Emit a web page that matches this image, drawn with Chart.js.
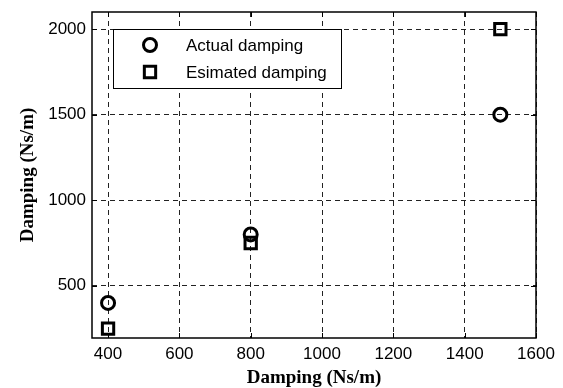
<!DOCTYPE html>
<html>
<head>
<meta charset="utf-8">
<script src="https://cdn.jsdelivr.net/npm/chart.js@4.4.1/dist/chart.umd.min.js"></script>
<style>
  html, body { margin: 0; padding: 0; background: #fff; }
  #wrap { width: 563px; height: 388px; }
</style>
</head>
<body>
<div id="wrap"><canvas id="c" width="563" height="388"></canvas></div>
<script>
// Damping values (Ns/m)
const inputDamping = [400, 800, 1500];
const actualDamping = [400, 800, 1500];
const estimatedDamping = [250, 750, 2000];

const xTickValues = [400, 600, 800, 1000, 1200, 1400, 1600];
const yTickValues = [500, 1000, 1500, 2000];

const seriesLabels = ['Actual damping', 'Esimated damping'];
const axisTitle = 'Damping (Ns/m)';

const toPoints = (xs, ys) => xs.map((x, i) => ({ x: x, y: ys[i] }));

// Box frame with inward tick marks on all four sides
const framePlugin = {
  id: 'frame',
  afterDatasetsDraw(chart) {
    const { ctx, chartArea: a, scales } = chart;
    ctx.save();
    ctx.strokeStyle = '#000';
    ctx.lineWidth = 1;
    ctx.setLineDash([]);
    const t = 5;
    ctx.beginPath();
    xTickValues.forEach(v => {
      const px = Math.round(scales.x.getPixelForValue(v)) + 0.5;
      ctx.moveTo(px, a.bottom); ctx.lineTo(px, a.bottom - t);
      ctx.moveTo(px, a.top); ctx.lineTo(px, a.top + t);
    });
    yTickValues.forEach(v => {
      const py = Math.round(scales.y.getPixelForValue(v)) + 0.5;
      ctx.moveTo(a.left, py); ctx.lineTo(a.left + t, py);
      ctx.moveTo(a.right, py); ctx.lineTo(a.right - t, py);
    });
    ctx.stroke();
    ctx.lineWidth = 1.5;
    ctx.strokeRect(a.left, a.top, a.right - a.left, a.bottom - a.top);
    ctx.restore();
  }
};

// Boxed legend in the upper-left of the plot area
const boxLegendPlugin = {
  id: 'boxLegend',
  afterDraw(chart) {
    const { ctx, chartArea: a } = chart;
    const x0 = a.left + 21, y0 = a.top + 17, w = 228, h = 59;
    ctx.save();
    ctx.fillStyle = '#fff';
    ctx.fillRect(x0, y0, w, h);
    ctx.strokeStyle = '#000';
    ctx.lineWidth = 1;
    ctx.setLineDash([]);
    ctx.strokeRect(x0 + 0.5, y0 + 0.5, w, h);
    ctx.font = '17px "Liberation Sans", Arial, sans-serif';
    ctx.textBaseline = 'middle';
    chart.data.datasets.forEach((ds, i) => {
      const cy = y0 + 16 + i * 27;
      const cx = x0 + 37;
      ctx.fillStyle = 'rgba(0,0,0,0)';
      ctx.strokeStyle = '#000';
      ctx.lineWidth = ds.borderWidth;
      Chart.helpers.drawPoint(ctx, {
        pointStyle: ds.pointStyle,
        radius: ds.pointRadius,
        borderWidth: ds.borderWidth
      }, cx, cy);
      ctx.fillStyle = '#000';
      ctx.fillText(ds.label, x0 + 73, cy + 1);
    });
    ctx.restore();
  }
};

const gridOpts = {
  color: '#222',
  lineWidth: 1,
  drawTicks: false
};

const tickFont = { family: '"Liberation Sans", Arial, sans-serif', size: 17 };
const titleFont = { family: '"Liberation Serif", "Times New Roman", serif', size: 19, weight: 'bold', lineHeight: 1 };

new Chart(document.getElementById('c'), {
  type: 'scatter',
  data: {
    datasets: [
      {
        label: seriesLabels[0],
        data: toPoints(inputDamping, actualDamping),
        pointStyle: 'circle',
        pointRadius: 6.5,
        borderWidth: 3,
        borderColor: '#000',
        backgroundColor: 'rgba(0,0,0,0)'
      },
      {
        label: seriesLabels[1],
        data: toPoints(inputDamping, estimatedDamping),
        pointStyle: 'rect',
        pointRadius: 8,
        borderWidth: 3,
        borderColor: '#000',
        backgroundColor: 'rgba(0,0,0,0)'
      }
    ]
  },
  options: {
    responsive: false,
    animation: false,
    layout: { padding: { top: 12, right: 27, left: 0, bottom: 0 } },
    plugins: {
      legend: { display: false },
      tooltip: { enabled: false }
    },
    scales: {
      x: {
        type: 'linear',
        min: 355,
        max: 1600,
        afterBuildTicks: s => { s.ticks = xTickValues.map(v => ({ value: v })); },
        afterFit: s => { s.height = 50; s.paddingLeft = 0; s.paddingRight = 0; },
        grid: gridOpts,
        border: { display: false, dash: [5, 4] },
        ticks: {
          padding: 6,
          color: '#000',
          maxRotation: 0,
          font: tickFont,
          callback: v => String(v)
        },
        title: {
          display: true,
          text: axisTitle,
          color: '#000',
          padding: { top: 0, bottom: 0 },
          font: titleFont
        }
      },
      y: {
        type: 'linear',
        min: 195,
        max: 2100,
        afterBuildTicks: s => { s.ticks = yTickValues.map(v => ({ value: v })); },
        afterFit: s => { s.width = 92; s.paddingTop = 0; s.paddingBottom = 0; },
        grid: gridOpts,
        border: { display: false, dash: [5, 4] },
        ticks: {
          padding: 6,
          color: '#000',
          font: tickFont,
          callback: v => String(v)
        },
        title: {
          display: true,
          text: axisTitle,
          color: '#000',
          padding: { top: 19, bottom: 0 },
          font: titleFont
        }
      }
    }
  },
  plugins: [framePlugin, boxLegendPlugin]
});
</script>
</body>
</html>
